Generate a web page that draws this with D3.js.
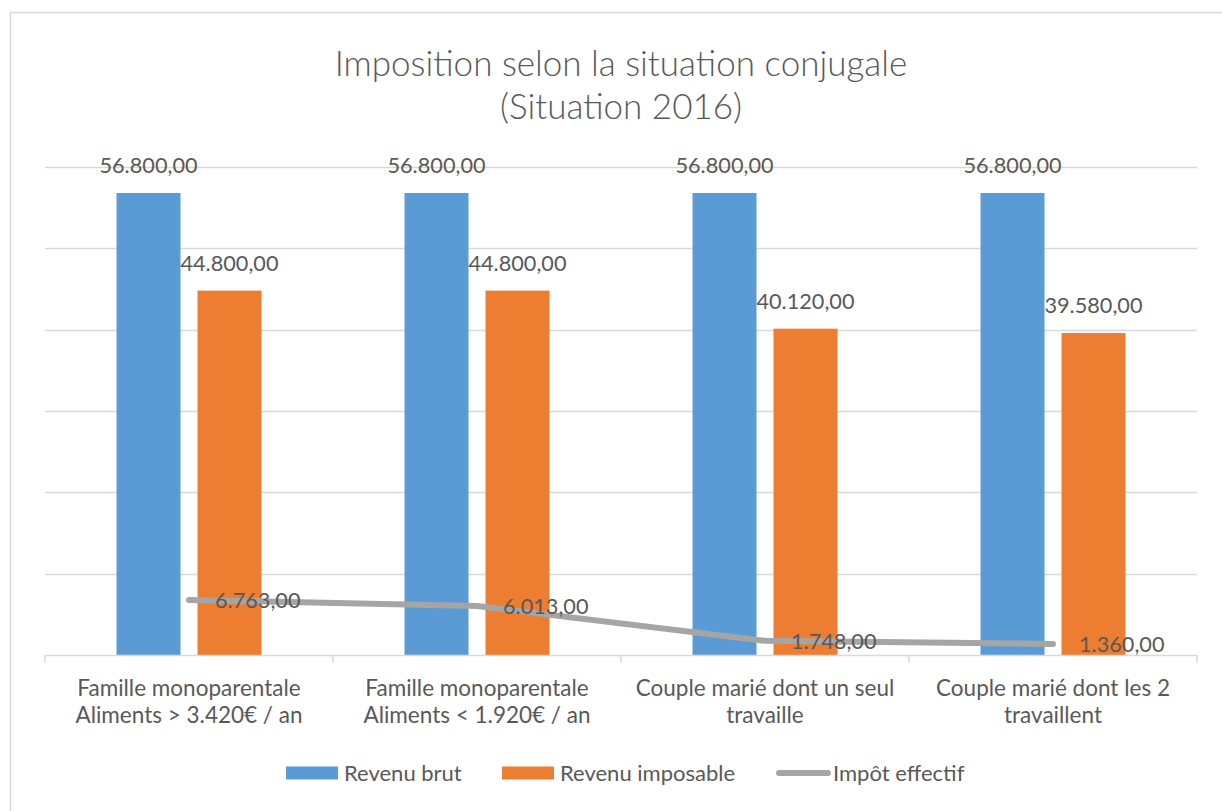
<!DOCTYPE html>
<html>
<head>
<meta charset="utf-8">
<script src="https://cdn.jsdelivr.net/npm/d3@7"></script>
<style>
  html, body { margin: 0; padding: 0; background: #fff; }
  svg { display: block; }
  text { font-family: Lato, "Open Sans", sans-serif; fill: #595959; }
</style>
</head>
<body>
<svg id="chart" width="1222" height="811"></svg>
<script>
const categories = [
  ["Famille monoparentale", "Aliments > 3.420€ / an"],
  ["Famille monoparentale", "Aliments < 1.920€ / an"],
  ["Couple marié dont un seul", "travaille"],
  ["Couple marié dont les 2", "travaillent"]
];
const seriesNames = ["Revenu brut", "Revenu imposable", "Impôt effectif"];
const revenuBrut = [56800, 56800, 56800, 56800];
const revenuImposable = [44800, 44800, 40120, 39580];
const impotEffectif = [6763, 6013, 1748, 1360];
const yTicks = [0, 10000, 20000, 30000, 40000, 50000, 60000];
const titleLines = ["Imposition selon la situation conjugale", "(Situation 2016)"];

const colors = ["#5B9BD5", "#ED7D31", "#A5A5A5"];
const svg = d3.select("#chart");

const loc = d3.formatLocale({decimal: ",", thousands: ".", grouping: [3], currency: ["", "€"]});
const fmt = loc.format(",.2f");

// outer border
svg.append("rect").attr("x", 10.5).attr("y", 12.5).attr("width", 1240).attr("height", 820)
  .attr("fill", "#fff").attr("stroke", "#D9D9D9").attr("stroke-width", 1.5);

const pLeft = 45, pRight = 1197, pTop = 167, pBottom = 655;
const catIdx = categories.map((d, i) => i);
const x0 = d3.scaleBand().domain(catIdx).range([pLeft, pRight]);
const x1 = d3.scaleBand().domain([0, 1]).range([0, x0.bandwidth()])
  .paddingInner(17 / 81).paddingOuter(0.883);
const y = d3.scaleLinear().domain([0, 60000]).range([pBottom, pTop]);

// title
svg.append("g").selectAll("text").data(titleLines).join("text")
  .attr("x", 621).attr("y", (d, i) => 76 + i * 43)
  .attr("text-anchor", "middle")
  .style("font-size", "35px").style("font-weight", 300)
  .text(d => d);

// gridlines
svg.append("g").selectAll("line").data(yTicks.slice(1)).join("line")
  .attr("x1", pLeft).attr("x2", pRight)
  .attr("y1", d => Math.round(y(d)) + 0.5).attr("y2", d => Math.round(y(d)) + 0.5)
  .attr("stroke", "#D9D9D9").attr("stroke-width", 1.5);

// bars
const groups = svg.append("g").selectAll("g").data(catIdx).join("g")
  .attr("transform", d => `translate(${x0(d)},0)`);
const barData = i => [revenuBrut[i], revenuImposable[i]];
groups.selectAll("rect").data(i => barData(i)).join("rect")
  .attr("x", (d, j) => x1(j)).attr("width", x1.bandwidth())
  .attr("y", d => y(d)).attr("height", d => y(0) - y(d))
  .attr("fill", (d, j) => colors[j]);

// x axis
const xAxis = svg.append("g").attr("transform", `translate(0,${pBottom})`);
xAxis.append("line").attr("x1", pLeft).attr("x2", pRight).attr("y1", 0.5).attr("y2", 0.5)
  .attr("stroke", "#D9D9D9").attr("stroke-width", 1.5);
const tickXs = catIdx.map(i => x0(i)).concat([pRight]);
xAxis.selectAll("line.tick").data(tickXs).join("line").attr("class", "tick")
  .attr("x1", d => d).attr("x2", d => d).attr("y1", 0).attr("y2", 8)
  .attr("stroke", "#D9D9D9").attr("stroke-width", 1.5);
const catLabels = xAxis.selectAll("text").data(catIdx).join("text")
  .attr("x", i => x0(i) + x0.bandwidth() / 2)
  .attr("text-anchor", "middle").style("font-size", "22.5px");
catLabels.selectAll("tspan").data(i => categories[i]).join("tspan")
  .attr("x", function() { return d3.select(this.parentNode).attr("x"); })
  .attr("y", (d, k) => 41 + k * 27)
  .text(d => d);

// line
const cx = i => x0(i) + x0.bandwidth() / 2;
const line = d3.line().x((d, i) => cx(i)).y(d => y(d));
svg.append("path").datum(impotEffectif)
  .attr("d", line).attr("fill", "none")
  .attr("stroke", colors[2]).attr("stroke-width", 6).attr("stroke-linecap", "round")
  .attr("stroke-linejoin", "round");

// bar labels
groups.selectAll("text").data(i => barData(i)).join("text")
  .attr("x", (d, j) => x1(j) + x1.bandwidth() / 2)
  .attr("y", d => y(d) - 20)
  .attr("text-anchor", "middle").style("font-size", "21.7px")
  .text(d => fmt(d));

// line labels
svg.append("g").selectAll("text").data(impotEffectif).join("text")
  .attr("x", (d, i) => cx(i) + 26).attr("y", d => y(d) + 8)
  .style("font-size", "21.7px")
  .text(d => fmt(d));

// legend
const legendX = [286, 502, 776];
const lg = svg.append("g").selectAll("g").data(seriesNames).join("g")
  .attr("transform", (d, i) => `translate(${legendX[i]},773)`);
lg.filter((d, i) => i < 2).append("rect")
  .attr("x", 0).attr("y", -6.5).attr("width", 52).attr("height", 13)
  .attr("fill", (d, i) => colors[i]);
lg.filter((d, i) => i === 2).append("line")
  .attr("x1", 3).attr("x2", 52).attr("y1", 0).attr("y2", 0)
  .attr("stroke", colors[2]).attr("stroke-width", 6).attr("stroke-linecap", "round");
lg.append("text").attr("x", (d, i) => i === 2 ? 57 : 58).attr("y", 8)
  .style("font-size", "22px").text(d => d);
</script>
</body>
</html>
